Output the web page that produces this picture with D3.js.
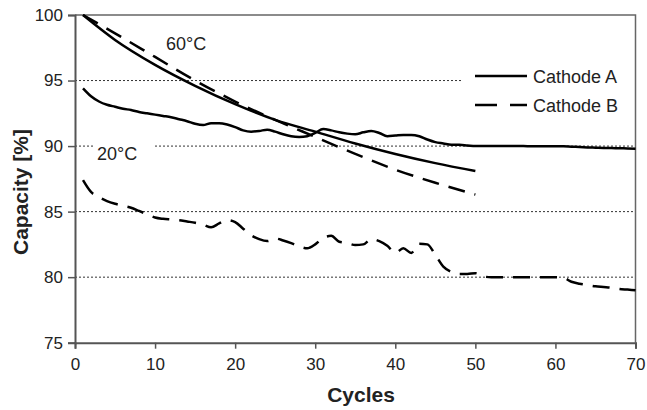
<!DOCTYPE html>
<html>
<head>
<meta charset="utf-8">
<script src="https://cdn.jsdelivr.net/npm/d3@7"></script>
<style>
  body { margin: 0; background: #fff; }
  text { font-family: "Liberation Sans", Arial, sans-serif; fill: #222; }
</style>
</head>
<body>
<script>
// data
const cyclesA60 = [1, 5, 10, 15, 20, 25, 30, 35, 40, 45, 50];
const capA60 = [100, 98.1, 96.2, 94.6, 93.2, 92.0, 91.1, 90.2, 89.4, 88.7, 88.1];
const cyclesB60 = [1, 5, 10, 15, 20, 25, 30, 35, 40, 45, 50];
const capB60 = [100, 98.6, 96.8, 95.0, 93.4, 92.0, 90.7, 89.4, 88.2, 87.2, 86.3];

const cycles20 = d3.range(1, 71);
const capA20 = [94.4, 93.8, 93.4, 93.15, 93.0, 92.85, 92.75, 92.6, 92.5, 92.4,
  92.3, 92.2, 92.05, 91.9, 91.7, 91.6, 91.75, 91.75, 91.65, 91.45,
  91.2, 91.1, 91.15, 91.25, 91.1, 90.9, 90.75, 90.7, 90.75, 91.0,
  91.3, 91.2, 91.05, 90.95, 90.9, 91.05, 91.15, 91.0, 90.75, 90.8,
  90.85, 90.85, 90.75, 90.5, 90.3, 90.2, 90.1, 90.1, 90.05, 90.0,
  90.0, 90.0, 90.0, 90.0, 90.0, 90.0, 89.98, 89.98, 89.98, 89.98,
  89.98, 89.95, 89.93, 89.9, 89.88, 89.86, 89.85, 89.83, 89.82, 89.8];
const capB20 = [87.4, 86.5, 86.1, 85.8, 85.6, 85.45, 85.3, 85.05, 84.8, 84.55,
  84.45, 84.4, 84.35, 84.25, 84.15, 84.0, 83.8, 84.1, 84.35, 84.2,
  83.7, 83.2, 82.9, 82.75, 82.95, 82.8, 82.6, 82.35, 82.2, 82.5,
  83.0, 83.15, 82.7, 82.6, 82.45, 82.5, 82.9, 82.75, 82.4, 81.85,
  82.2, 81.85, 82.55, 82.5, 81.7, 80.8, 80.4, 80.25, 80.25, 80.3,
  80.05, 80.0, 80.0, 80.0, 80.0, 80.0, 80.0, 80.0, 80.0, 80.0,
  79.95, 79.65, 79.5, 79.4, 79.3, 79.25, 79.2, 79.1, 79.05, 79.0];

const xTicks = [0, 10, 20, 30, 40, 50, 60, 70];
const yTicks = [75, 80, 85, 90, 95, 100];
const gridVals = [80, 85, 90, 95];

const W = 647, H = 410;
const m = {left: 75, right: 11.5, top: 15, bottom: 67.3};

const svg = d3.select("body").append("svg")
    .attr("width", W)
    .attr("height", H);

const x = d3.scaleLinear().domain([0, 70]).range([m.left, W - m.right]);
const y = d3.scaleLinear().domain([75, 100]).range([H - m.bottom, m.top]);

// grid
svg.append("g").selectAll("line").data(gridVals).join("line")
    .attr("x1", x(0)).attr("x2", x(70))
    .attr("y1", d => y(d)).attr("y2", d => y(d))
    .attr("stroke", "#333")
    .attr("stroke-width", 1)
    .attr("stroke-dasharray", "2,2");

// frame top / right
svg.append("path")
    .attr("d", `M${x(0)},${y(100)}H${x(70)}V${y(75)}`)
    .attr("fill", "none")
    .attr("stroke", "#666")
    .attr("stroke-width", 1.5);

// white patches behind labels
svg.append("rect").attr("x", 93).attr("y", 140).attr("width", 62).attr("height", 24).attr("fill", "#fff");
svg.append("rect").attr("x", 463).attr("y", 62).attr("width", 171).attr("height", 56).attr("fill", "#fff");

// axes
const xAxis = svg.append("g")
    .attr("transform", `translate(0,${y(75)})`)
    .call(d3.axisBottom(x).tickValues(xTicks).tickSize(6).tickPadding(9));
const yAxis = svg.append("g")
    .attr("transform", `translate(${x(0)},0)`)
    .call(d3.axisLeft(y).tickValues(yTicks).tickSize(7).tickPadding(5));
[xAxis, yAxis].forEach(a => {
  a.select(".domain").attr("stroke", "#555").attr("stroke-width", 2);
  a.selectAll(".tick line").attr("stroke", "#555").attr("stroke-width", 1.5);
  a.selectAll(".tick text").attr("font-size", 17).attr("fill", "#222")
    .style("font-family", "'Liberation Sans', Arial, sans-serif");
});

// series
const line = d3.line()
    .x(d => x(d[0]))
    .y(d => y(d[1]))
    .curve(d3.curveMonotoneX);

function drawSeries(xs, ys, dashed) {
  svg.append("path")
      .attr("d", line(d3.zip(xs, ys)))
      .attr("fill", "none")
      .attr("stroke", "#000")
      .attr("stroke-width", 2.5)
      .attr("stroke-dasharray", dashed ? "17,10" : null);
}

drawSeries(cycles20, capA20, false);
drawSeries(cycles20, capB20, true);
drawSeries(cyclesA60, capA60, false);
drawSeries(cyclesB60, capB60, true);

// annotations
svg.append("text").attr("x", 166).attr("y", 49.5).attr("font-size", 18).text("60°C");
svg.append("text").attr("x", 97).attr("y", 159.5).attr("font-size", 18).text("20°C");

// legend
const legend = [{name: "Cathode A", dashed: false, y: 76}, {name: "Cathode B", dashed: true, y: 105}];
legend.forEach(l => {
  svg.append("line")
      .attr("x1", 475).attr("x2", 527)
      .attr("y1", l.y).attr("y2", l.y)
      .attr("stroke", "#000").attr("stroke-width", 2.5)
      .attr("stroke-dasharray", l.dashed ? "22,13" : null);
  svg.append("text")
      .attr("x", 533).attr("y", l.y + 7)
      .attr("font-size", 18)
      .text(l.name);
});

// titles
svg.append("text")
    .attr("x", 361).attr("y", 402)
    .attr("text-anchor", "middle")
    .attr("font-size", 21).attr("font-weight", "bold")
    .text("Cycles");
svg.append("text")
    .attr("transform", "translate(28,192) rotate(-90)")
    .attr("text-anchor", "middle")
    .attr("font-size", 21).attr("font-weight", "bold")
    .text("Capacity [%]");
</script>
</body>
</html>
